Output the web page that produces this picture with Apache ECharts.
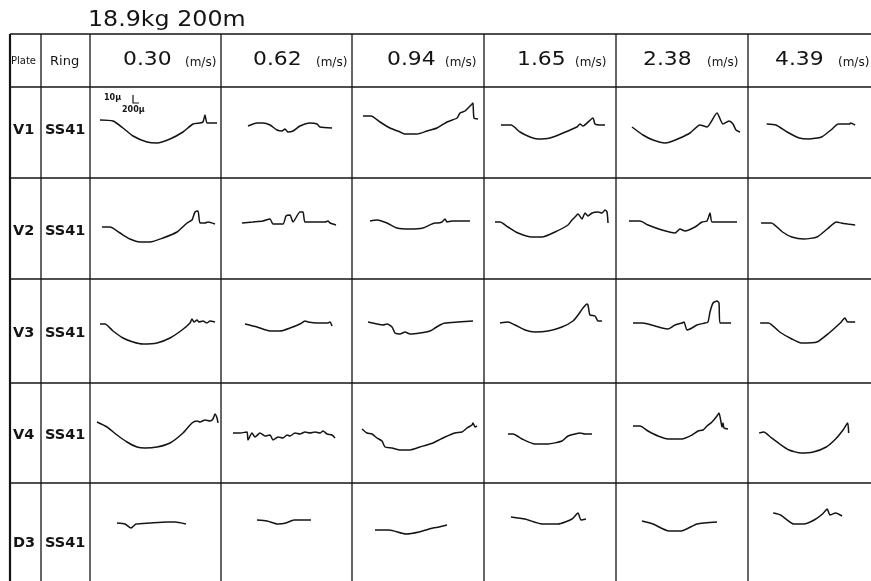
<!DOCTYPE html>
<html>
<head>
<meta charset="utf-8">
<script src="https://cdn.jsdelivr.net/npm/echarts@6/dist/echarts.min.js"></script>
<style>html,body{margin:0;padding:0;background:#fff}#c{width:871px;height:581px}</style>
</head>
<body>
<div id="c"></div>
<script>
// ---- data ----
const titleText = '18.9kg 200m';
const headerPlate = 'Plate';
const headerRing = 'Ring';
const speeds = ['0.30', '0.62', '0.94', '1.65', '2.38', '4.39'];
const speedUnit = '(m/s)';
const plates = ['V1', 'V2', 'V3', 'V4', 'D3'];
const rings = ['SS41', 'SS41', 'SS41', 'SS41', 'SS41'];
const scaleV = '10μ';
const scaleH = '200μ';

// profile traces: [position along cell, depth below row top], one list per speed
const profV1 = [
  [[10,33],[23,34],[33,41],[43,49],[57,55],[67,56],[80,52],[93,45],[103,37],[110,36],[113,35],[115,28],[117,36],[122,36],[127,36]],
  [[27,39],[36,36],[42,36],[49,38],[56,43],[61,44],[64,42],[67,45],[72,44],[79,39],[89,36],[96,37],[99,40],[111,41]],
  [[11,29],[19,29],[28,35],[38,41],[48,45],[53,47],[65,47],[75,44],[85,41],[95,35],[105,31],[108,26],[113,24],[120,17],[121,16],[122,31],[126,32]],
  [[17,38],[27,38],[36,45],[46,50],[54,52],[66,51],[79,46],[93,40],[96,37],[99,39],[109,31],[111,37],[116,38],[121,38]],
  [[16,40],[27,48],[37,53],[49,56],[54,55],[64,51],[74,46],[84,38],[91,40],[101,26],[107,37],[113,34],[117,37],[120,43],[124,45]],
  [[20,37],[30,38],[42,45],[55,51],[65,52],[79,50],[89,43],[97,37],[109,37],[110,36],[115,38]]
];
const profV2 = [
  [[12,49],[20,49],[30,55],[40,61],[50,64],[60,64],[73,60],[87,54],[97,45],[102,42],[105,34],[108,33],[110,45],[115,45],[118,44],[125,46]],
  [[21,45],[32,44],[42,43],[49,41],[52,46],[62,46],[65,38],[69,37],[72,44],[79,34],[82,34],[84,44],[92,44],[104,44],[107,43],[109,45],[115,47]],
  [[18,43],[25,42],[35,45],[45,50],[58,51],[71,50],[83,45],[86,45],[90,44],[93,41],[95,44],[100,43],[118,43]],
  [[11,44],[16,44],[24,49],[34,55],[48,59],[58,59],[71,54],[84,47],[88,42],[91,39],[94,36],[98,41],[101,35],[104,38],[108,35],[114,34],[118,35],[121,32],[123,34],[124,45]],
  [[13,43],[24,43],[32,47],[46,52],[59,55],[64,51],[69,53],[79,49],[86,44],[91,43],[94,35],[96,44],[106,44],[121,44]],
  [[14,45],[25,45],[37,54],[47,59],[60,61],[74,59],[85,51],[95,44],[100,45],[107,46],[115,47]]
];
const profV3 = [
  [[10,45],[15,45],[23,52],[33,59],[43,63],[53,65],[67,64],[80,59],[92,51],[100,44],[102,40],[104,43],[107,41],[109,43],[113,42],[117,44],[120,42],[125,43]],
  [[24,45],[36,48],[49,52],[59,52],[69,49],[79,45],[84,42],[87,43],[96,44],[107,44],[109,43],[111,47]],
  [[16,43],[25,45],[31,46],[35,45],[40,48],[43,54],[48,55],[53,53],[58,55],[68,54],[78,52],[83,49],[88,46],[93,44],[106,43],[121,42]],
  [[16,44],[24,43],[31,46],[41,51],[51,53],[64,52],[78,48],[89,42],[94,36],[99,29],[103,25],[104,26],[106,36],[111,37],[114,42],[118,42]],
  [[17,44],[26,44],[32,45],[39,47],[46,49],[52,50],[56,48],[59,46],[66,44],[68,43],[71,51],[76,49],[81,46],[89,44],[92,43],[94,33],[97,24],[101,22],[103,24],[104,44],[109,44],[115,44]],
  [[13,44],[22,44],[34,53],[47,60],[57,64],[74,63],[87,54],[99,44],[104,39],[107,43],[115,43]]
];
const profV4 = [
  [[7,39],[17,44],[27,52],[37,59],[47,64],[55,65],[67,64],[80,60],[93,50],[102,40],[107,38],[110,39],[115,37],[120,38],[123,36],[125,31],[127,35],[128,40]],
  [[12,50],[19,50],[26,49],[27,57],[31,50],[34,54],[39,50],[44,53],[49,52],[52,57],[57,54],[62,55],[66,52],[69,53],[74,50],[79,51],[84,49],[89,50],[94,49],[99,50],[102,48],[106,51],[111,52],[114,55]],
  [[10,46],[15,50],[20,51],[25,55],[30,58],[33,64],[40,65],[48,67],[58,67],[68,64],[81,60],[83,59],[93,54],[103,50],[110,49],[115,45],[120,42],[121,40],[123,44],[125,43]],
  [[24,51],[29,51],[38,56],[51,61],[64,61],[78,58],[84,53],[91,51],[96,50],[101,51],[108,51]],
  [[17,43],[24,43],[32,48],[42,53],[52,56],[66,56],[76,52],[82,48],[87,47],[91,43],[96,39],[101,33],[103,30],[105,39],[106,44],[107,40],[108,45],[112,46]],
  [[12,50],[17,49],[24,54],[34,61],[44,67],[57,70],[70,69],[84,64],[94,56],[102,47],[107,40],[108,50]]
];
const profD3 = [
  [[27,40],[35,41],[41,45],[46,41],[60,40],[77,39],[85,39],[96,41]],
  [[36,37],[46,38],[57,41],[65,40],[73,37],[90,37]],
  [[23,47],[37,47],[54,51],[67,49],[81,45],[87,44],[95,42]],
  [[27,34],[41,36],[58,41],[74,41],[88,36],[94,30],[97,37],[102,36]],
  [[26,38],[37,41],[53,48],[65,48],[81,41],[101,39]],
  [[27,30],[35,32],[49,41],[60,41],[71,37],[80,31],[85,26],[88,32],[94,30],[101,33]]
];
const profiles = [profV1, profV2, profV3, profV4, profD3];

// ---- layout ----
const FONT = '"DejaVu Sans", "Liberation Sans", sans-serif';
const INK = '#141414';
const colX = [10, 41, 90, 221, 352, 484, 616, 748, 880];
const rowY = [34, 87, 178, 279, 383, 483, 581];
const labelY = [130, 231, 333, 435, 543];
const numOffset = [33, 32, 35, 33, 27, 27];
const unitOffset = [95, 95, 93, 91, 91, 90];

const grids = [], xAxes = [], yAxes = [], series = [];
let gi = 0;
profiles.forEach((row, r) => {
  const top = rowY[r + 1], h = rowY[r + 2] - rowY[r + 1];
  row.forEach((trace, c) => {
    const left = colX[c + 2], w = colX[c + 3] - colX[c + 2];
    grids.push({ left: left, top: top, width: w, height: h, containLabel: false });
    xAxes.push({ gridIndex: gi, type: 'value', min: 0, max: w, show: false });
    yAxes.push({ gridIndex: gi, type: 'value', min: 0, max: h, inverse: true, show: false });
    series.push({
      type: 'line', xAxisIndex: gi, yAxisIndex: gi, data: trace,
      showSymbol: false, symbol: 'none', smooth: 0.2, silent: true,
      lineStyle: { color: INK, width: 1.5 }
    });
    gi++;
  });
});

const graphics = [];
const line = (x1, y1, x2, y2, w) => graphics.push({
  type: 'line', silent: true, z: 10,
  shape: { x1: x1, y1: y1, x2: x2, y2: y2 },
  style: { stroke: INK, lineWidth: w || 1.2 }
});
for (let i = 0; i < rowY.length - 1; i++) line(colX[0], rowY[i], 871, rowY[i], i === 0 ? 1.7 : 1.4);
for (let j = 0; j < colX.length - 1; j++) line(colX[j], rowY[0], colX[j], 581, j === 0 ? 2.2 : 1.3);

const text = (t, x, y, size, weight, sx) => graphics.push({
  type: 'text', silent: true, z: 11, x: x, y: y, scaleX: sx || 1,
  style: { text: t, x: 0, y: 0, fill: INK, fontSize: size, fontFamily: FONT, fontWeight: weight || 'normal', align: 'left', verticalAlign: 'middle' }
});

text(titleText, 88, 21, 21, 'normal', 1.13);
const hy = (rowY[0] + rowY[1]) / 2 + 1;
text(headerPlate, 11, hy, 10);
text(headerRing, 50, hy, 13);
speeds.forEach((s, i) => {
  const x0 = colX[i + 2];
  text(s, x0 + numOffset[i], hy - 1, 19, 'normal', 1.15);
  text(speedUnit, x0 + unitOffset[i], hy + 1, 12);
});
plates.forEach((p, r) => {
  text(p, 13, labelY[r], 14.5, 'bold');
  text(rings[r], 45, labelY[r], 14.5, 'bold');
});
// scale marker in first cell
text(scaleV, 104, 98, 8, 'bold');
text(scaleH, 122, 110, 8, 'bold');
graphics.push({ type: 'polyline', silent: true, z: 11,
  shape: { points: [[133, 95], [133, 103], [139, 103]] },
  style: { stroke: INK, lineWidth: 1.2, fill: null } });

const chart = echarts.init(document.getElementById('c'), null, { renderer: 'canvas' });
chart.setOption({
  backgroundColor: '#fff',
  animation: false,
  grid: grids, xAxis: xAxes, yAxis: yAxes, series: series,
  graphic: graphics
});
</script>
</body>
</html>
